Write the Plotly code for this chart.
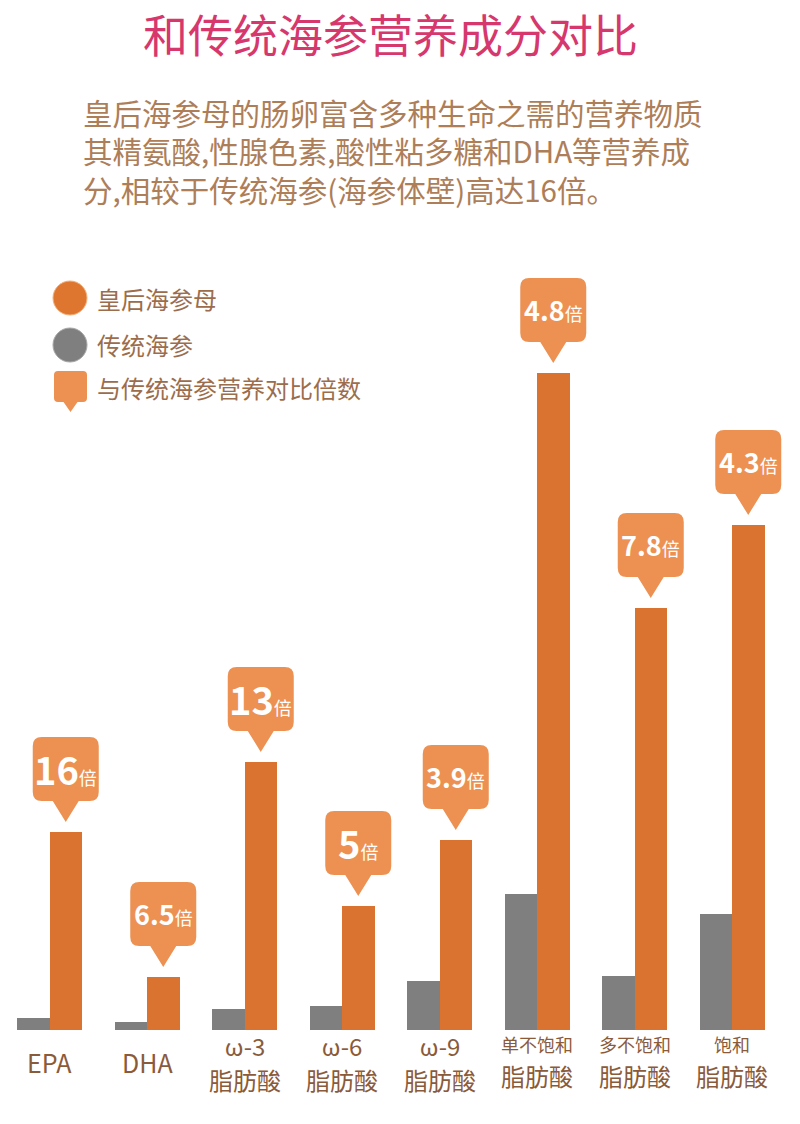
import plotly.graph_objects as go

# ---- data ----
cat_line1 = ["EPA", "DHA", "ω-3", "ω-6", "ω-9", "单不饱和", "多不饱和", "饱和"]
cat_line2 = ["", "", "脂肪酸", "脂肪酸", "脂肪酸", "脂肪酸", "脂肪酸", "脂肪酸"]
queen_vals = [19.8, 5.3, 26.8, 12.4, 19.0, 65.7, 42.2, 50.5]      # 皇后海参母
trad_vals = [1.2, 0.8, 2.1, 2.4, 4.9, 13.6, 5.4, 11.6]            # 传统海参
ratio_labels = ["16", "6.5", "13", "5", "3.9", "4.8", "7.8", "4.3"]

title_text = "和传统海参营养成分对比"
sub_lines = [
    "皇后海参母的肠卵富含多种生命之需的营养物质",
    "其精氨酸,性腺色素,酸性粘多糖和DHA等营养成",
    "分,相较于传统海参(海参体壁)高达16倍。",
]
legend_names = ["皇后海参母", "传统海参", "与传统海参营养对比倍数"]

# ---- style ----
ORANGE = "#D9732F"
GRAY = "#7F7F7F"
CALLOUT = "#EC9152"
PINK = "#D6386D"
SUB_COL = "#AD7E58"
LEG_COL = "#9C6D4C"
LAB_COL = "#8A5B3B"
FONT = "Noto Sans CJK SC"

W, H = 800, 1124
BOTTOM = 94
PLOT_H = H - BOTTOM
SPACING = 97.5
FIRST_CENTER = 49.5
BW = 1 / 3


def py(p):
    """pixel y (from top) -> paper y"""
    return (PLOT_H - p) / PLOT_H


def px(p):
    return p / W


xs = list(range(len(cat_line1)))

fig = go.Figure()
fig.add_trace(go.Bar(x=xs, y=trad_vals, name=legend_names[1], marker_color=GRAY,
                     marker_line_width=0, offset=-BW, width=BW))
fig.add_trace(go.Bar(x=xs, y=queen_vals, name=legend_names[0], marker_color=ORANGE,
                     marker_line_width=0, offset=0, width=BW))


def callout_path(w, h, th, tw, r, base=0):
    # tip at (0,base), y upward (pixel sizemode)
    hw = w / 2
    top = th + h
    return (f"M 0 {base} L {tw/2} {th} L {hw-r} {th} Q {hw} {th} {hw} {th+r} "
            f"L {hw} {top-r} Q {hw} {top} {hw-r} {top} L {-hw+r} {top} "
            f"Q {-hw} {top} {-hw} {top-r} L {-hw} {th+r} Q {-hw} {th} {-hw+r} {th} "
            f"L {-tw/2} {th} Z")


shapes = []
annotations = []
GAP, TRI_H, TRI_W, BOX_W, BOX_H = 10, 21, 26, 66, 64
for i, (v, lab) in enumerate(zip(queen_vals, ratio_labels)):
    cx = i + BW / 2
    shapes.append(dict(type="path", xref="x", yref="y", xsizemode="pixel", ysizemode="pixel",
                       xanchor=cx, yanchor=v,
                       path=callout_path(BOX_W, BOX_H, TRI_H + GAP, TRI_W, 9, base=GAP),
                       fillcolor=CALLOUT, line=dict(width=0), layer="above"))
    big = 38 if "." not in lab else 27
    annotations.append(dict(x=cx, y=v, xref="x", yref="y", yshift=GAP + TRI_H + BOX_H / 2 + 1,
                            text=f"<b>{lab}</b><span style='font-size:18px'>倍</span>",
                            showarrow=False, xanchor="center", yanchor="middle",
                            font=dict(family=FONT, size=big, color="white")))

# category labels
for i, (l1, l2) in enumerate(zip(cat_line1, cat_line2)):
    if l2 == "":
        annotations.append(dict(x=i, xref="x", y=py(1062), yref="paper", text=l1, showarrow=False,
                                xanchor="center", yanchor="middle",
                                font=dict(family=FONT, size=25, color=LAB_COL)))
    else:
        fs = 24 if l1.startswith("ω") else 18
        text = f"<span style='font-size:{fs}px'>{l1}</span><br><span style='font-size:24px'>{l2}</span>"
        annotations.append(dict(x=i, xref="x", y=py(1062), yref="paper", text=text,
                                showarrow=False, xanchor="center", yanchor="middle",
                                font=dict(family=FONT, size=26, color=LAB_COL)))

# title & subtitle
annotations.append(dict(x=px(390), y=py(33), xref="paper", yref="paper", text=title_text,
                        showarrow=False, xanchor="center", yanchor="middle",
                        font=dict(family=FONT, size=45, color=PINK)))
annotations.append(dict(x=px(81), y=py(150), xref="paper", yref="paper", text="<br>".join(sub_lines),
                        showarrow=False, xanchor="left", yanchor="middle", align="left",
                        font=dict(family=FONT, size=29.5, color=SUB_COL)))

# legend (manual)
leg_y = [298, 345, 388]
shapes.append(dict(type="circle", xref="paper", yref="paper", x0=px(53), x1=px(87),
                   y0=py(315), y1=py(281), fillcolor="#DF7630", line=dict(color="#F2B27E", width=1)))
shapes.append(dict(type="circle", xref="paper", yref="paper", x0=px(53), x1=px(87),
                   y0=py(362), y1=py(328), fillcolor=GRAY, line=dict(color="#A8A8A8", width=1)))
shapes.append(dict(type="path", xref="paper", yref="paper", xsizemode="pixel", ysizemode="pixel",
                   xanchor=px(70.5), yanchor=py(412),
                   path=callout_path(33, 31, 10, 14, 4), fillcolor=CALLOUT, line=dict(width=0)))
for name, yy in zip(legend_names, leg_y):
    annotations.append(dict(x=px(95), y=py(yy), xref="paper", yref="paper", text=name,
                            showarrow=False, xanchor="left", yanchor="middle",
                            font=dict(family=FONT, size=24, color=LEG_COL)))

x_lo = -FIRST_CENTER / SPACING
x_hi = (W - FIRST_CENTER) / SPACING
fig.update_layout(
    width=W, height=H, margin=dict(l=0, r=0, t=0, b=BOTTOM, pad=0),
    paper_bgcolor="white", plot_bgcolor="white", showlegend=False,
    barmode="overlay", bargap=0,
    xaxis=dict(range=[x_lo, x_hi], visible=False, fixedrange=True),
    yaxis=dict(range=[0, PLOT_H / 10], visible=False, fixedrange=True),
    shapes=shapes, annotations=annotations,
    font=dict(family=FONT),
)
fig.write_html("out.html", config={"displayModeBar": False})
